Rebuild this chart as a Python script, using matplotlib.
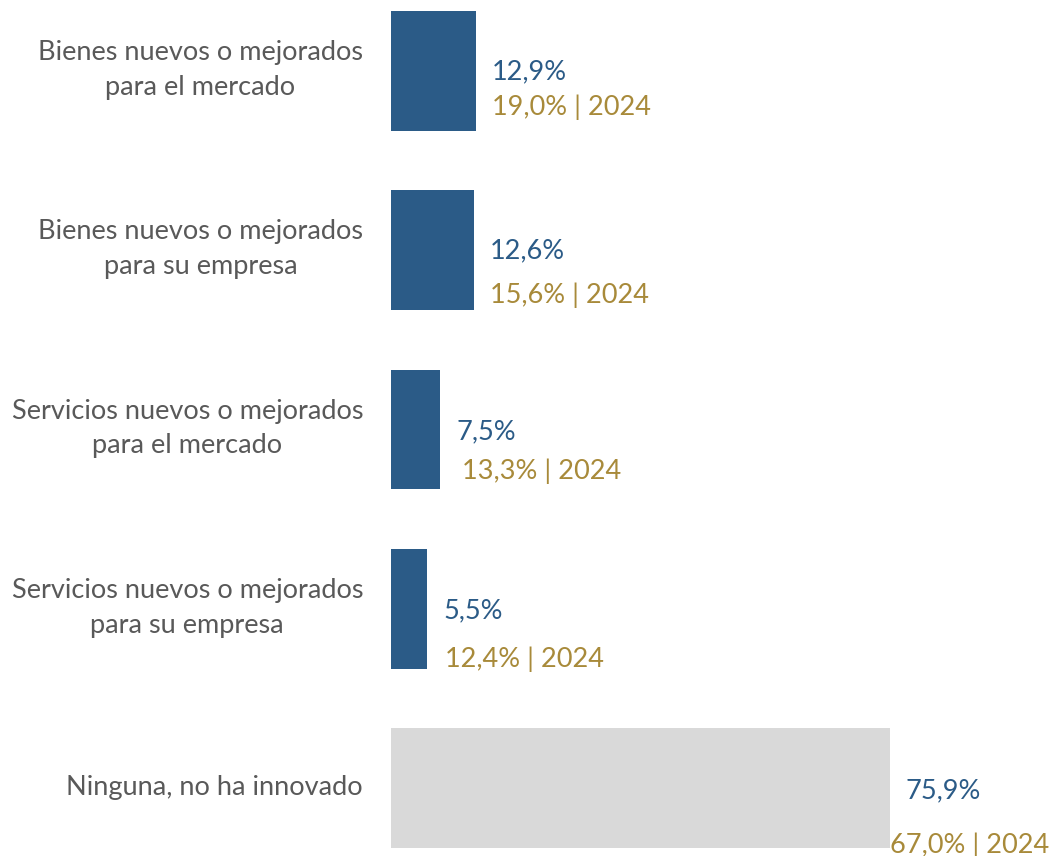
import matplotlib

matplotlib.use("Agg")
import matplotlib.pyplot as plt

categories = [
    "Bienes nuevos o mejorados\npara el mercado",
    "Bienes nuevos o mejorados\npara su empresa",
    "Servicios nuevos o mejorados\npara el mercado",
    "Servicios nuevos o mejorados\npara su empresa",
    "Ninguna, no ha innovado",
]
values_2025 = [12.9, 12.6, 7.5, 5.5, 75.9]
values_2024 = [19.0, 15.6, 13.3, 12.4, 67.0]
labels_2025 = ["12,9%", "12,6%", "7,5%", "5,5%", "75,9%"]
labels_2024 = ["19,0% | 2024", "15,6% | 2024", "13,3% | 2024", "12,4% | 2024", "67,0% | 2024"]

BLUE = "#2B5B87"
GOLD = "#A88A3A"
GREY_TEXT = "#595959"
GREY_BAR = "#D9D9D9"
FONT = ["Lato", "DejaVu Sans"]
FS = 19.5

# placement tweaks (pixels) for the value labels beside each bar
offs_2025_y = [-1, -1, -2, -2, -3]
offs_2024_y = [-36, -45, -42, -50, -57]
offs_2024_x = [16, 16, 22, 18, 0]

plt.rcParams["font.family"] = FONT

W, H = 1053, 856
fig = plt.figure(figsize=(W / 100, H / 100), dpi=100)
ax = fig.add_axes([391 / W, 8 / H, 657 / W, 837 / H])

ypos = list(range(len(categories)))
colors = [BLUE] * 4 + [GREY_BAR]
ax.barh(ypos, values_2025, height=0.668, color=colors)
ax.set_xlim(0, 100)
ax.set_ylim(4.334, -0.334)
ax.axis("off")

for i, cat in enumerate(categories):
    ax.annotate(cat, xy=(0, i), xytext=(-28, 1), textcoords="offset pixels",
                ha="right", va="center", multialignment="center",
                fontsize=FS, color=GREY_TEXT, linespacing=1.5)
    ax.annotate(labels_2025[i], xy=(values_2025[i], i), xytext=(16, offs_2025_y[i]),
                textcoords="offset pixels", ha="left", va="center",
                fontsize=FS, color=BLUE, annotation_clip=False)
    # the 2024 label sits beside the current bar, not at its own value
    ax.annotate(labels_2024[i], xy=(values_2025[i], i),
                xytext=(offs_2024_x[i], offs_2024_y[i]),
                textcoords="offset pixels", ha="left", va="center",
                fontsize=FS, color=GOLD, annotation_clip=False)

fig.savefig("out.png", dpi=100)
